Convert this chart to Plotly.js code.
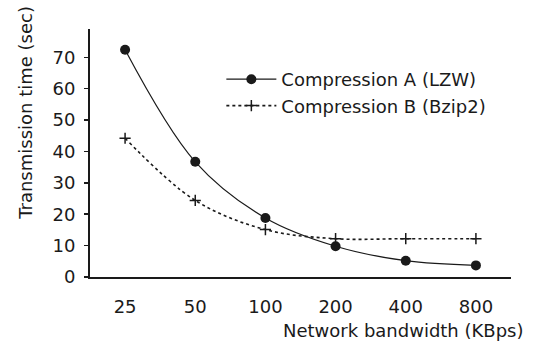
<!DOCTYPE html>
<html>
<head>
<meta charset="utf-8">
<script src="https://cdn.plot.ly/plotly-3.0.1.min.js"></script>
<style>html,body{margin:0;padding:0;background:#fff;}#chart{width:535px;height:345px;}</style>
</head>
<body>
<div id="chart"></div>
<script>
const categories = ["25", "50", "100", "200", "400", "800"];
const seriesA = [72.4, 36.7, 18.8, 9.8, 5.2, 3.7];
const seriesB = [44.2, 24.4, 15.1, 12.2, 12.2, 12.2];
const nameA = "Compression A (LZW)";
const nameB = "Compression B (Bzip2)";
const yTicks = [0, 10, 20, 30, 40, 50, 60, 70];

const FONT = "DejaVu Sans, Arial, sans-serif";
const INK = "#1a1a1a";
const FS = 18;

const traces = [
  {
    x: categories, y: seriesA, name: nameA, type: "scatter", mode: "lines+markers",
    line: {color: INK, width: 1.2, shape: "spline", smoothing: 1},
    marker: {symbol: "circle", size: 10, color: INK}
  },
  {
    x: categories, y: seriesB, name: nameB, type: "scatter", mode: "lines+markers",
    line: {color: INK, width: 1.6, dash: "dot", shape: "spline", smoothing: 1},
    marker: {symbol: "cross-thin", size: 8, color: INK, line: {color: INK, width: 1.5}}
  }
];

const layout = {
  width: 535, height: 345,
  margin: {l: 90, r: 24, t: 29, b: 68},
  paper_bgcolor: "#fff", plot_bgcolor: "#fff",
  font: {family: FONT, size: FS, color: INK},
  showlegend: true,
  legend: {x: 0.312, y: 0.744, xanchor: "left", yanchor: "middle",
           bgcolor: "rgba(0,0,0,0)", font: {family: FONT, size: FS, color: INK},
           tracegroupgap: 0, itemwidth: 50},
  xaxis: {
    type: "category", range: [-0.5, 5.5], showgrid: false, zeroline: false,
    showline: true, linecolor: INK, linewidth: 2, ticks: "",
    ticklabelstandoff: 12, tickfont: {family: FONT, size: FS, color: INK},
    fixedrange: true
  },
  yaxis: {
    range: [0, 79], tickvals: yTicks, showgrid: false, zeroline: false,
    showline: true, linecolor: INK, linewidth: 2, ticks: "outside", ticklen: 4,
    tickwidth: 1.5, tickcolor: INK, ticklabelstandoff: 5,
    tickfont: {family: FONT, size: FS, color: INK}, fixedrange: true
  },
  annotations: [
    {text: "Transmission time (sec)", xref: "paper", yref: "paper",
     x: -0.155, y: 0.661, xanchor: "center", yanchor: "middle", textangle: -90,
     showarrow: false, font: {family: FONT, size: FS, color: INK}},
    {text: "Network bandwidth (KBps)", xref: "paper", yref: "paper",
     x: 1.035, y: -0.165, xanchor: "right", yanchor: "top",
     showarrow: false, font: {family: FONT, size: FS, color: INK}}
  ]
};

Plotly.newPlot("chart", traces, layout, {displayModeBar: false, staticPlot: true});
</script>
</body>
</html>
